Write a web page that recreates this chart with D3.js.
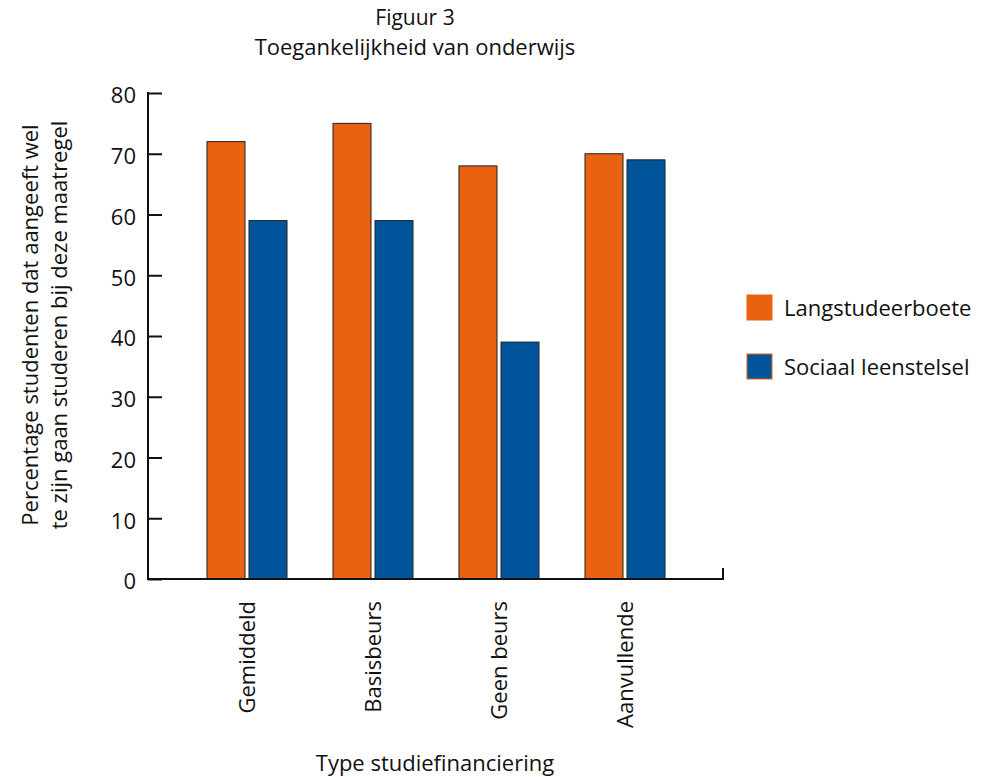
<!DOCTYPE html>
<html>
<head>
<meta charset="utf-8">
<script src="https://cdn.jsdelivr.net/npm/d3@7"></script>
<style>
  body { margin: 0; background: #fff; }
  text { font-family: "Open Sans", "Noto Sans", sans-serif; fill: #111; }
</style>
</head>
<body>
<div id="chart"></div>
<script>
// Figuur 3 - Toegankelijkheid van onderwijs
const categories = ["Gemiddeld", "Basisbeurs", "Geen beurs", "Aanvullende"];
const seriesNames = ["Langstudeerboete", "Sociaal leenstelsel"];
const langstudeerboete = [72, 75, 68, 70];
const sociaalLeenstelsel = [59, 59, 39, 69];
const yTicks = [0, 10, 20, 30, 40, 50, 60, 70, 80];

const width = 994;
const height = 777;
const orange = "#E8620F";
const blue = "#00549A";
const colors = [orange, blue];

const svg = d3.select("#chart")
  .append("svg")
  .attr("width", width)
  .attr("height", height);

const y = d3.scaleLinear().domain([0, 80]).range([579, 93]);

const x0 = d3.scaleBand()
  .domain(categories)
  .range([184, 688])
  .paddingInner(0.365)
  .paddingOuter(0.1825);

const x1 = d3.scaleBand()
  .domain(seriesNames)
  .range([0, x0.bandwidth()])
  .paddingInner(4 / 42);

const rows = categories.map((c, i) => ({
  cat: c,
  vals: [
    { name: seriesNames[0], value: langstudeerboete[i] },
    { name: seriesNames[1], value: sociaalLeenstelsel[i] }
  ]
}));

// bars
svg.append("g")
  .selectAll("g")
  .data(rows)
  .enter().append("g")
  .attr("transform", d => `translate(${x0(d.cat)},0)`)
  .selectAll("rect")
  .data(d => d.vals)
  .enter().append("rect")
  .attr("x", d => x1(d.name))
  .attr("y", d => y(d.value))
  .attr("width", x1.bandwidth())
  .attr("height", d => y(0) - y(d.value))
  .attr("fill", (d, i) => colors[i])
  .attr("stroke", "#222")
  .attr("stroke-width", 1);

// y axis, ticks point inward
const yAxis = svg.append("g")
  .attr("transform", "translate(148,0)")
  .call(d3.axisRight(y).tickValues(yTicks).tickSize(14).tickFormat(d3.format("d")));
yAxis.select(".domain").remove();
yAxis.selectAll("line").attr("stroke", "#111").attr("stroke-width", 2);
yAxis.selectAll("text")
  .attr("x", -12)
  .attr("dy", "0.45em")
  .attr("text-anchor", "end")
  .style("font-size", "22px");

svg.append("line")
  .attr("x1", 148).attr("x2", 148)
  .attr("y1", y(80) - 1).attr("y2", y(0) + 1)
  .attr("stroke", "#111").attr("stroke-width", 2);

// x axis line with end tick
svg.append("path")
  .attr("d", `M147,${y(0)}H723V568`)
  .attr("fill", "none")
  .attr("stroke", "#111")
  .attr("stroke-width", 2);

// category labels (rotated)
svg.append("g")
  .selectAll("text")
  .data(categories)
  .enter().append("text")
  .attr("transform", d => `translate(${x0(d) + x0.bandwidth() / 2 + 8},601) rotate(-90)`)
  .attr("text-anchor", "end")
  .style("font-size", "22px")
  .text(d => d);

// titles
svg.append("text")
  .attr("x", 415).attr("y", 25)
  .attr("text-anchor", "middle")
  .style("font-size", "21px")
  .text("Figuur 3");
svg.append("text")
  .attr("x", 415).attr("y", 55)
  .attr("text-anchor", "middle")
  .style("font-size", "22px")
  .text("Toegankelijkheid van onderwijs");

svg.append("text")
  .attr("x", 435).attr("y", 771)
  .attr("text-anchor", "middle")
  .style("font-size", "22px")
  .text("Type studiefinanciering");

// y axis title
const yTitle = svg.append("text")
  .attr("transform", "translate(0,325) rotate(-90)")
  .attr("text-anchor", "middle")
  .style("font-size", "22px");
yTitle.append("tspan").attr("x", 0).attr("y", 38).text("Percentage studenten dat aangeeft wel");
yTitle.append("tspan").attr("x", 0).attr("y", 67).text("te zijn gaan studeren bij deze maatregel");

// legend
const legend = svg.append("g")
  .selectAll("g")
  .data(seriesNames)
  .enter().append("g")
  .attr("transform", (d, i) => `translate(747,${295 + i * 59})`);
legend.append("rect")
  .attr("width", 25).attr("height", 25)
  .attr("fill", (d, i) => colors[i])
  .attr("stroke", orange)
  .attr("stroke-width", 1);
legend.append("text")
  .attr("x", 37).attr("y", 21)
  .style("font-size", "22px")
  .text(d => d);
</script>
</body>
</html>
